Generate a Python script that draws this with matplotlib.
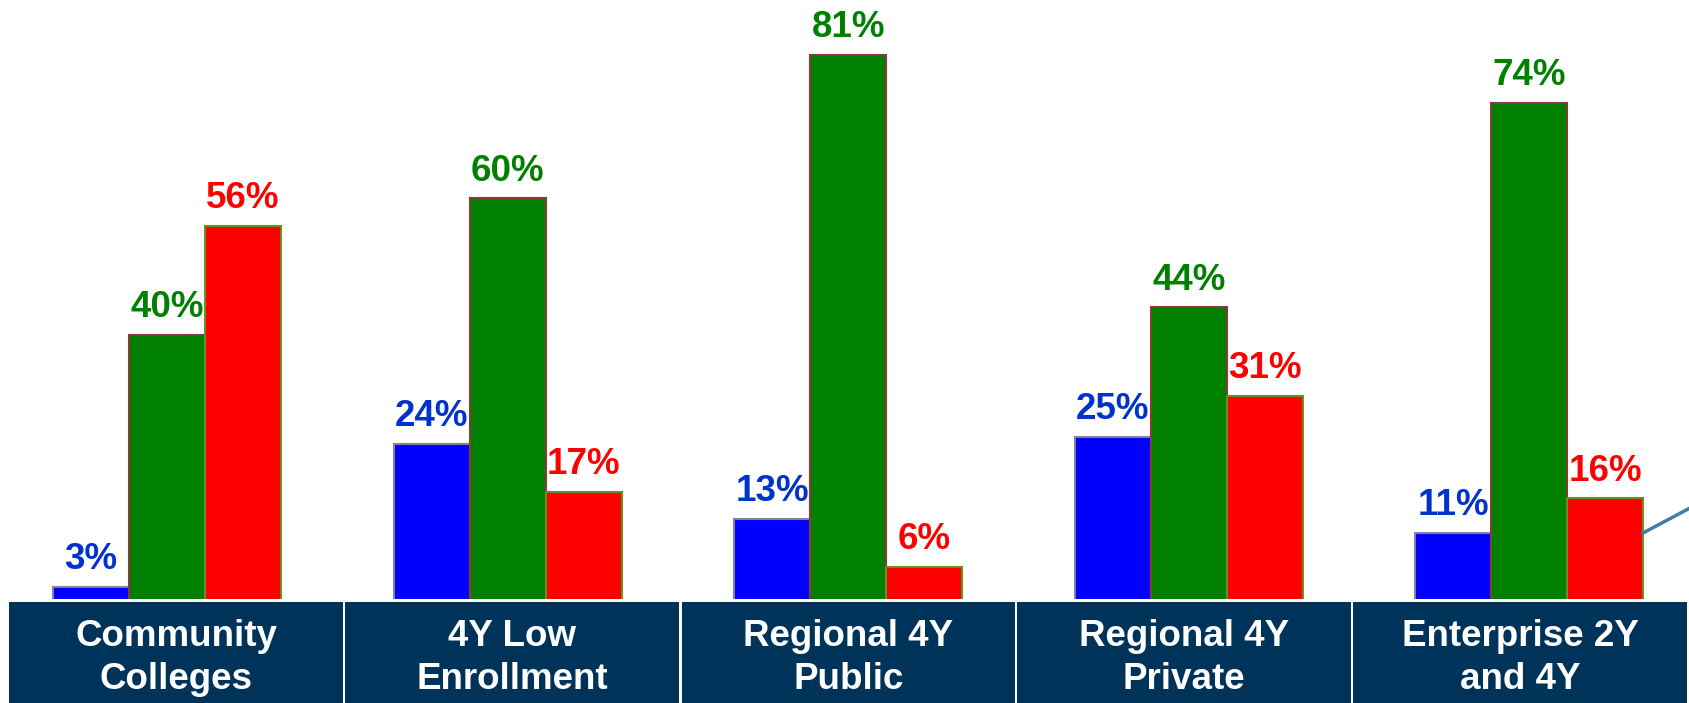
import matplotlib
matplotlib.use('Agg')
import matplotlib.pyplot as plt
from matplotlib.patches import Rectangle
import numpy as np

plt.rcParams['font.family'] = ['Liberation Sans', 'DejaVu Sans']

categories = ['Community\nColleges', '4Y Low\nEnrollment', 'Regional 4Y\nPublic',
              'Regional 4Y\nPrivate', 'Enterprise 2Y\nand 4Y']
blue_vals = [3, 24, 13, 25, 11]
green_vals = [40, 60, 81, 44, 74]
red_vals = [56, 17, 6, 31, 16]

W, H = 1690, 703
fig = plt.figure(figsize=(W / 100, H / 100), dpi=100)
ax = fig.add_axes([0, (H - 599) / H, 1, 599 / H])

x = np.arange(len(categories))
bw = 0.2231
series = [
    (blue_vals, '#0000FF', '#8080A0', '#0033CC', -bw),
    (green_vals, '#008000', '#8B3A3A', '#008000', 0),
    (red_vals, '#FF0000', '#6B8E23', '#FF0000', bw),
]
for vals, fc, ec, tc, off in series:
    ax.bar(x + off, vals, width=bw, color=fc, edgecolor=ec, linewidth=1.5)
    for xi, v in zip(x + off, vals):
        ax.annotate(f'{v}%', (xi, v), xytext=(0, 7), textcoords='offset points',
                    ha='center', va='bottom', color=tc, fontsize=26.5, fontweight='bold')

ax.set_xlim(-167 / 340.6, (W - 167) / 340.6)
# the zero line sits just below the visible bottom, as in the original slide
ax.set_ylim(1.25, 1.25 + 599 / 6.82)
ax.axis('off')

# navy category boxes along the bottom
for i, cat in enumerate(categories):
    left = 9.5 + i * 336
    fig.patches.append(Rectangle((left / W, 0), 333.5 / W, (H - 601.5) / H,
                                 transform=fig.transFigure, facecolor='#003359',
                                 edgecolor='none'))
    fig.text((left + 333.5 / 2) / W, (H - 658) / H, cat, ha='center', va='center',
             color='white', fontsize=26.5, fontweight='bold', linespacing=1.32)

# connector line running off the right edge
fig.add_artist(plt.Line2D([1643 / W, 1.0], [(H - 533) / H, (H - 508) / H],
                          transform=fig.transFigure, color='#3E7FA8', linewidth=2.5))

fig.savefig('out.png', dpi=100)
